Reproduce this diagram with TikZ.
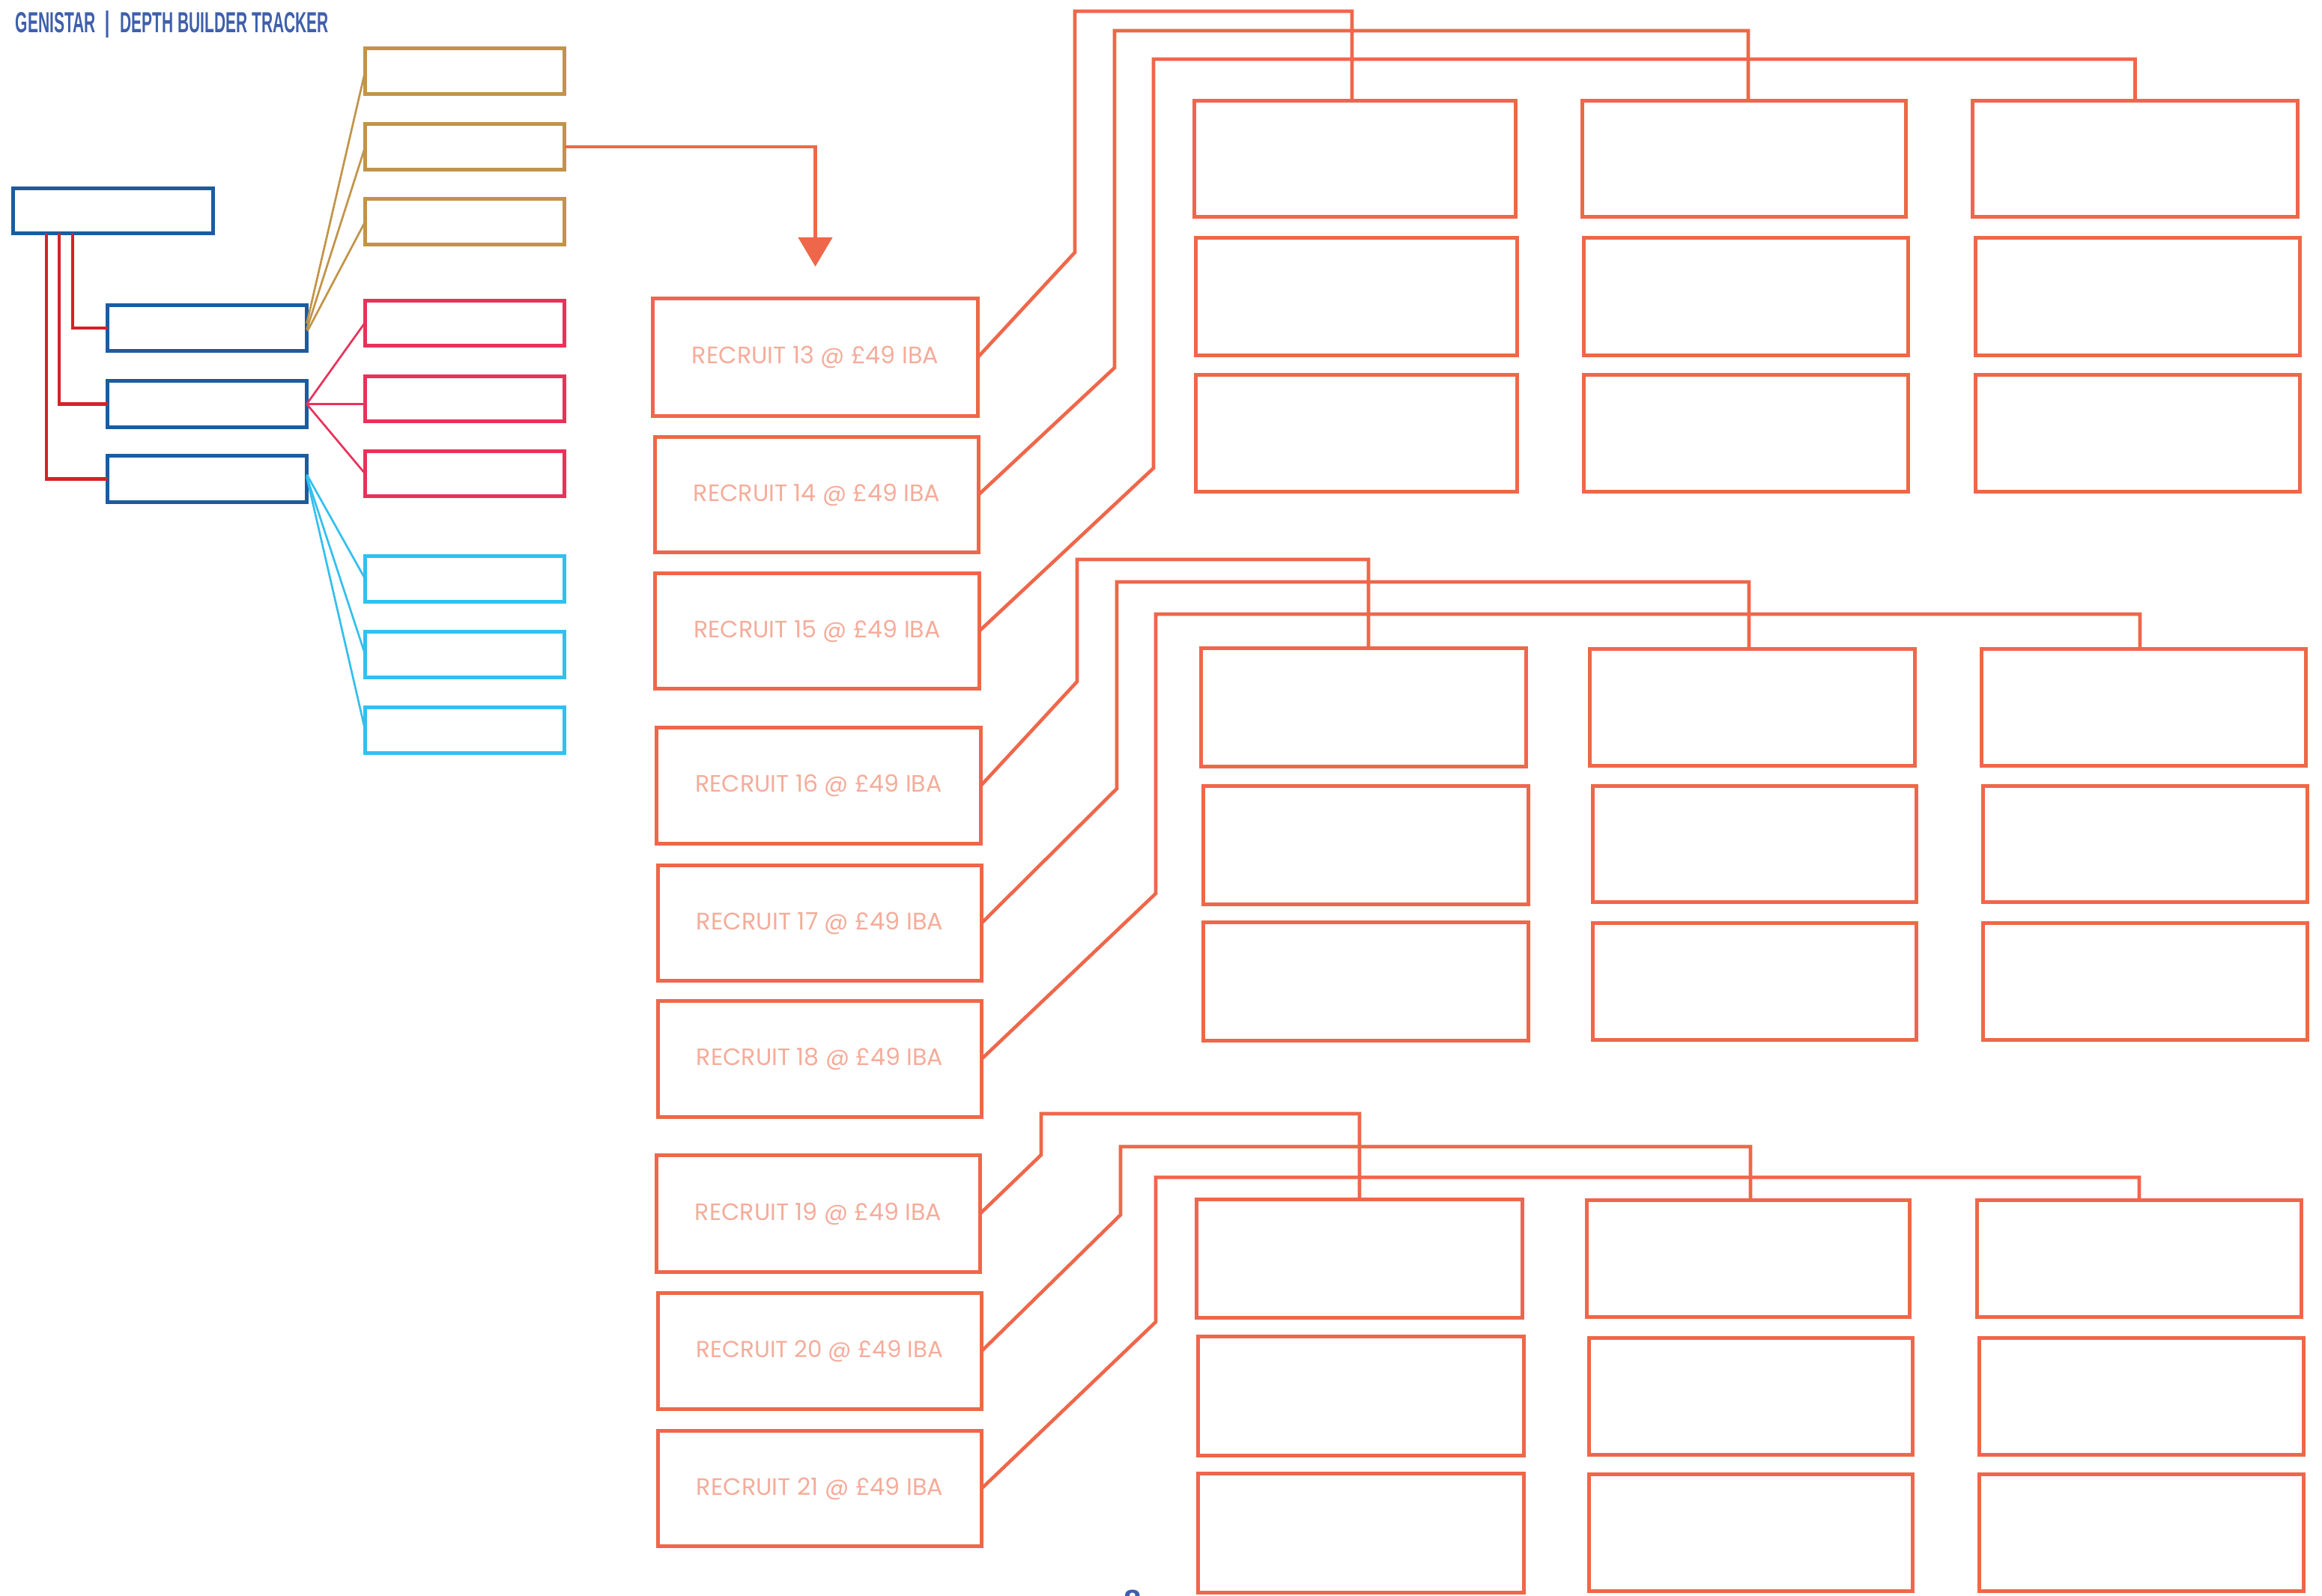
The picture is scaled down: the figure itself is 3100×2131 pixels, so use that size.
\documentclass[tikz,border=0pt]{standalone}
\usepackage{graphicx}
\usepackage{fontspec}
\setmainfont{Liberation Sans}
\newfontfamily\recfont{Poppins}
\usetikzlibrary{fit,calc,arrows.meta}
\definecolor{corange}{RGB}{239,103,74}
\definecolor{csalmon}{RGB}{245,172,154}
\definecolor{cblue}{RGB}{27,92,158}
\definecolor{cred}{RGB}{210,35,42}
\definecolor{cgold}{RGB}{193,148,72}
\definecolor{cpink}{RGB}{232,50,90}
\definecolor{ccyan}{RGB}{50,192,238}
\definecolor{ctitle}{RGB}{62,95,172}
\newcommand\bx[6]{\node[#2, fit={(#3+2.5,#4+2.5) (#5-2.5,#6-2.5)}] (#1) {};}
\newcommand\rbx[7]{\node[recbox, fit={(#2+2.5,#3+2.5) (#4-2.5,#5-2.5)}] (#1) {};
  \node[rectext] (#6) at (#1.center) {\resizebox{3.29cm}{!}{\recfont #7}};}
\tikzset{
  boxbase/.style={draw, line width=0.05cm, inner sep=0pt, outer sep=0pt, fill=white},
  bluebox/.style={boxbase, draw=cblue},
  goldbox/.style={boxbase, draw=cgold},
  pinkbox/.style={boxbase, draw=cpink},
  cyanbox/.style={boxbase, draw=ccyan},
  recbox/.style={boxbase, draw=corange},
  gridbox/.style={boxbase, draw=corange, line width=0.046cm},
  rectext/.style={inner sep=0pt, text=csalmon},
  redlink/.style={draw=cred, line width=0.045cm},
  goldlink/.style={draw=cgold, line width=0.027cm},
  pinklink/.style={draw=cpink, line width=0.027cm},
  cyanlink/.style={draw=ccyan, line width=0.027cm},
  orlink/.style={draw=corange, line width=0.046cm, line join=miter},
  titletext/.style={inner sep=0pt, text=ctitle},
}
\begin{document}
\begin{tikzpicture}[x=0.01cm,y=-0.01cm]
\useasboundingbox (0,0) rectangle (3100,2131);
\clip (0,0) rectangle (3100,2131);
\fill[white] (0,0) rectangle (3100,2131);

% title
\node[titletext, anchor=south west] (tA) at (20,45) {\resizebox{1.07cm}{0.27cm}{\bfseries GENISTAR}};
\node[titletext] (tBar) at (143,32.5) {\resizebox*{!}{0.36cm}{|}};
\node[titletext, anchor=south west] (tB) at (160,45) {\resizebox{2.78cm}{0.27cm}{\bfseries DEPTH BUILDER TRACKER}};

% blue tree
\bx{b0}{bluebox}{15}{249}{287}{314}
\bx{b1}{bluebox}{141}{405}{412}{471}
\bx{b2}{bluebox}{141}{506}{412}{573}
\bx{b3}{bluebox}{141}{606}{412}{673}

\bx{ga}{goldbox}{485}{62}{756}{128}
\bx{gb}{goldbox}{485}{163}{756}{229}
\bx{gc}{goldbox}{485}{263}{756}{329}
\bx{pa}{pinkbox}{485}{399}{756}{464}
\bx{pb}{pinkbox}{485}{500}{756}{565}
\bx{pc}{pinkbox}{485}{600}{756}{665}
\bx{ca}{cyanbox}{485}{740}{756}{806}
\bx{cb}{cyanbox}{485}{841}{756}{907}
\bx{cc}{cyanbox}{485}{942}{756}{1008}

\draw[redlink] ($(b0.south west)+(79.5,0)$) |- (b1.west);
\draw[redlink] ($(b0.south west)+(61.5,0)$) |- (b2.west);
\draw[redlink] ($(b0.south west)+(44.5,0)$) |- (b3.west);

\draw[goldlink] ($(b1.east)+(0,-6)$) -- (ga.west);
\draw[goldlink] ($(b1.east)+(0,2)$) -- (gb.west);
\draw[goldlink] ($(b1.east)+(1,4)$) -- (gc.west);

\draw[pinklink] (b2.east) -- ($(pa.west)+(0,-1)$);
\draw[pinklink] (b2.east) -- (b2.east -| pb.west);
\draw[pinklink] (b2.east) -- (pc.west);

\draw[cyanlink] ($(b3.east)+(0,-6)$) -- (ca.west);
\draw[cyanlink] ($(b3.east)+(0,-3)$) -- (cb.west);
\draw[cyanlink] ($(b3.east)+(0,-3)$) -- (cc.west);

% recruit boxes
\rbx{r13}{869}{396}{1308}{558}{l13}{RECRUIT 13 @ £49 IBA}
\rbx{r14}{872}{581}{1309}{740}{l14}{RECRUIT 14 @ £49 IBA}
\rbx{r15}{872}{763}{1310}{922}{l15}{RECRUIT 15 @ £49 IBA}
\rbx{r16}{874}{969}{1312}{1129}{l16}{RECRUIT 16 @ £49 IBA}
\rbx{r17}{876}{1153}{1313}{1312}{l17}{RECRUIT 17 @ £49 IBA}
\rbx{r18}{876}{1334}{1313}{1494}{l18}{RECRUIT 18 @ £49 IBA}
\rbx{r19}{874}{1540}{1311}{1701}{l19}{RECRUIT 19 @ £49 IBA}
\rbx{r20}{876}{1724}{1313}{1884}{l20}{RECRUIT 20 @ £49 IBA}
\rbx{r21}{876}{1908}{1313}{2067}{l21}{RECRUIT 21 @ £49 IBA}

% arrow from gold box to recruit 13
\draw[orlink, -{Triangle[width=0.45cm,length=0.39cm]}, shorten >=0.425cm] (gb.east) -| (r13.north);

% group 1 grid
\bx{g1a}{gridbox}{1592}{132}{2026}{292}
\bx{g1a2}{gridbox}{1594}{315}{2028}{477}
\bx{g1a3}{gridbox}{1594}{498}{2028}{659}
\bx{g1b}{gridbox}{2110}{132}{2547}{292}
\bx{g1b2}{gridbox}{2112}{315}{2550}{477}
\bx{g1b3}{gridbox}{2112}{498}{2550}{659}
\bx{g1c}{gridbox}{2631}{132}{3070}{292}
\bx{g1c2}{gridbox}{2635}{315}{3073}{477}
\bx{g1c3}{gridbox}{2635}{498}{3073}{659}

% group 2 grid
\bx{g2a}{gridbox}{1601}{863}{2040}{1026}
\bx{g2a2}{gridbox}{1604}{1047}{2043}{1210}
\bx{g2a3}{gridbox}{1604}{1229}{2043}{1392}
\bx{g2b}{gridbox}{2120}{864}{2559}{1025}
\bx{g2b2}{gridbox}{2124}{1047}{2561}{1207}
\bx{g2b3}{gridbox}{2124}{1230}{2561}{1391}
\bx{g2c}{gridbox}{2643}{864}{3081}{1025}
\bx{g2c2}{gridbox}{2645}{1047}{3083}{1207}
\bx{g2c3}{gridbox}{2645}{1230}{3083}{1391}

% group 3 grid
\bx{g3a}{gridbox}{1595}{1599}{2035}{1762}
\bx{g3a2}{gridbox}{1597}{1782}{2037}{1946}
\bx{g3a3}{gridbox}{1597}{1965}{2037}{2129}
\bx{g3b}{gridbox}{2116}{1600}{2552}{1761}
\bx{g3b2}{gridbox}{2119}{1784}{2556}{1945}
\bx{g3b3}{gridbox}{2119}{1966}{2556}{2127}
\bx{g3c}{gridbox}{2637}{1600}{3075}{1761}
\bx{g3c2}{gridbox}{2640}{1784}{3078}{1945}
\bx{g3c3}{gridbox}{2640}{1966}{3078}{2127}

% recruit -> grid connectors
\draw[orlink] (r13.east) -- (1435,337) -- (1435,15) -| ($(g1a.north)+(-4,0)$);
\draw[orlink] (r14.east) -- (1488,491) -- (1488,41) -| ($(g1b.north)+(5.5,0)$);
\draw[orlink] (r15.east) -- (1540,625) -- (1540,79) -| (g1c.north);
\draw[orlink] (r16.east) -- (1438,910) -- (1438,747) -| ($(g2a.north)+(6.5,0)$);
\draw[orlink] (r17.east) -- (1491,1053) -- (1491,777) -| ($(g2b.north)+(-4.5,0)$);
\draw[orlink] (r18.east) -- (1543,1193) -- (1543,820) -| ($(g2c.north)+(-5,0)$);
\draw[orlink] (r19.east) -- (1390,1542) -- (1390,1487) -| (g3a.north);
\draw[orlink] (r20.east) -- (1496,1622) -- (1496,1531) -| ($(g3b.north)+(3,0)$);
\draw[orlink] (r21.east) -- (1543,1765) -- (1543,1572) -| (g3c.north);

% page number (cut off at bottom, as in the reference)
\node[titletext, anchor=north, font=\bfseries\fontsize{12pt}{14pt}\selectfont] (pg) at (1512,2122) {8};
\end{tikzpicture}
\end{document}
